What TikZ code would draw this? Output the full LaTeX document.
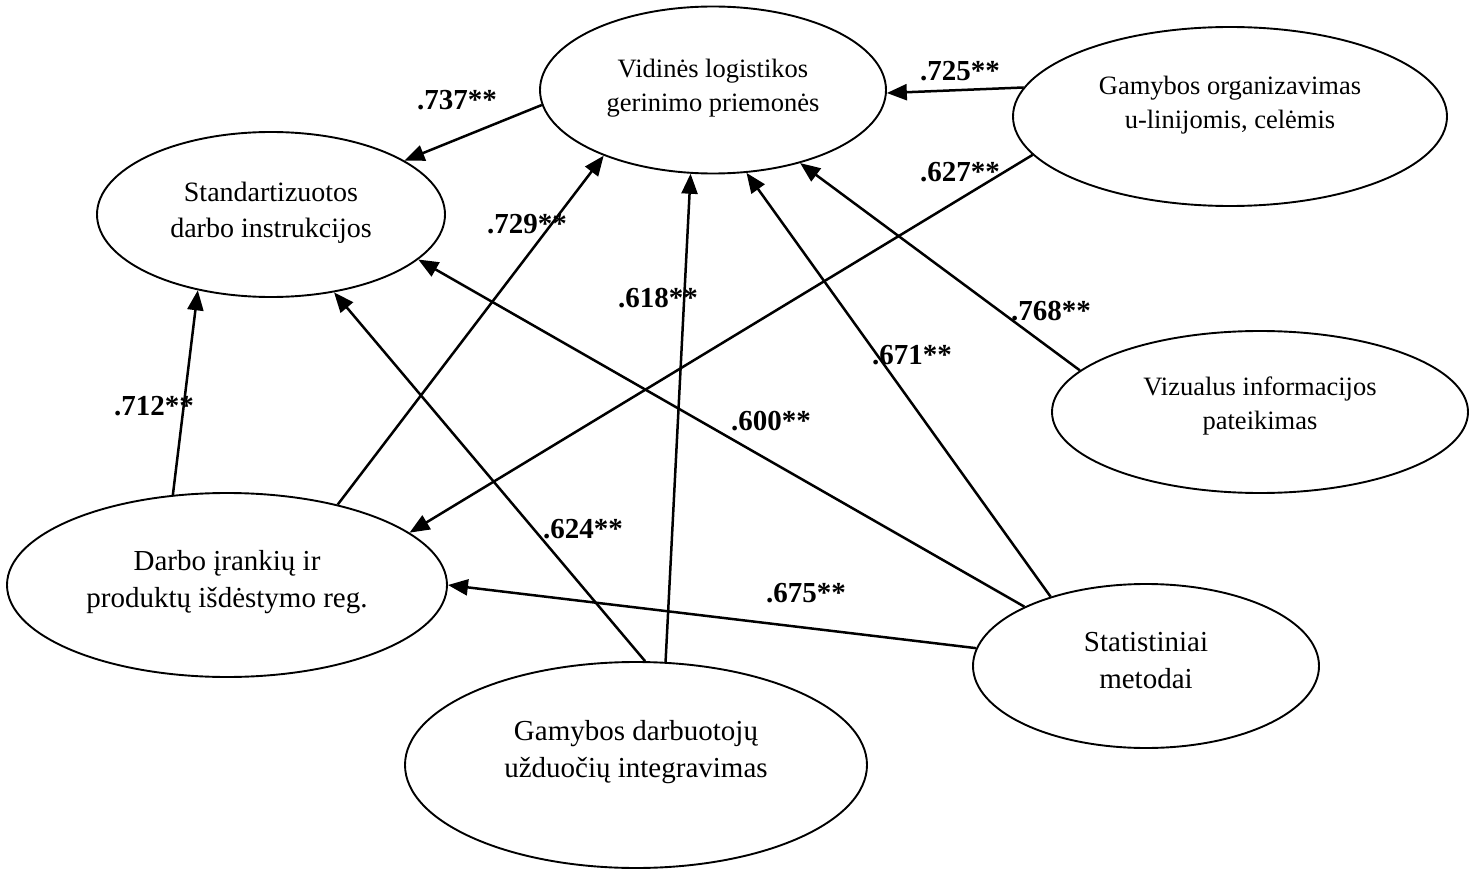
\documentclass[tikz,border=0pt]{standalone}
\usepackage{fontspec}
\setmainfont{Liberation Serif}
\usetikzlibrary{arrows.meta,shapes.geometric}
\begin{document}
\begin{tikzpicture}[x=1pt,y=-1pt,
  oval/.style={ellipse,draw,line width=1.9pt,inner sep=0pt},
  txt/.style={align=center,inner sep=0pt},
  fa/.style={font=\fontsize{26.5}{34}\selectfont},
  fb/.style={font=\fontsize{28}{36}\selectfont},
  fc/.style={font=\fontsize{29}{37.5}\selectfont},
  lbl/.style={font=\fontsize{29}{32}\selectfont\bfseries,inner sep=0pt},
  conn/.style={line width=2.5pt,-{Triangle[length=20pt,width=16pt]}}]
\fill[white] (0,0) rectangle (1476,869);
\useasboundingbox (0,0) rectangle (1476,869);
% ellipses
\node[oval,minimum width=346pt,minimum height=167pt] (A) at (713,90) {};
\node[oval,minimum width=434pt,minimum height=179pt] (B) at (1230,116.5) {};
\node[oval,minimum width=348pt,minimum height=165pt] (C) at (271,214.5) {};
\node[oval,minimum width=416pt,minimum height=162pt] (D) at (1260,412) {};
\node[oval,minimum width=440pt,minimum height=184pt] (E) at (227,585) {};
\node[oval,minimum width=346pt,minimum height=164pt] (F) at (1146,666) {};
\node[oval,minimum width=462pt,minimum height=206pt] (G) at (636,765) {};
% texts
\node[txt,fa] (tA) at (713,88) {Vidinės logistikos\\gerinimo priemonės};
\node[txt,fa] (tB) at (1230,105.5) {Gamybos organizavimas\\u-linijomis, celėmis};
\node[txt,fb] (tC) at (271,212.5) {Standartizuotos\\darbo instrukcijos};
\node[txt,fa] (tD) at (1260,406) {Vizualus informacijos\\pateikimas};
\node[txt,fc] (tE) at (227,582) {Darbo įrankių ir\\produktų išdėstymo reg.};
\node[txt,fc] (tF) at (1146,660.5) {Statistiniai\\metodai};
\node[txt,fc] (tG) at (636,752) {Gamybos darbuotojų\\užduočių integravimas};
% connectors
\draw[conn] (A.185.9) -- (C.22.4);
\draw[conn] (E.36.5) -- (A.211);
\draw[conn] (B.172.7) -- (A.359.3);
\draw[conn] (B.191.7) -- (E.16);
\draw[conn] (D.167.7) -- (A.320.5);
\draw[conn] (F.144.3) -- (A.292.3);
\draw[conn] (F.154.6) -- (C.343.2);
\draw[conn] (F.174.7) -- (E.0);
\draw[conn] (G.74.4) -- (A.255.8);
\draw[conn] (G.85.1) -- (C.309.9);
\draw[conn] (E.121.5) -- (C.226);
% labels
\node[lbl] (l737) at (457,100) {.737**};
\node[lbl] (l729) at (527,224) {.729**};
\node[lbl] (l725) at (960,71) {.725**};
\node[lbl] (l627) at (960,172) {.627**};
\node[lbl] (l768) at (1051,311) {.768**};
\node[lbl] (l671) at (912,355) {.671**};
\node[lbl] (l600) at (771,421) {.600**};
\node[lbl] (l675) at (806,593) {.675**};
\node[lbl] (l618) at (658,298) {.618**};
\node[lbl] (l624) at (583,529) {.624**};
\node[lbl] (l712) at (154,406) {.712**};
\end{tikzpicture}
\end{document}
